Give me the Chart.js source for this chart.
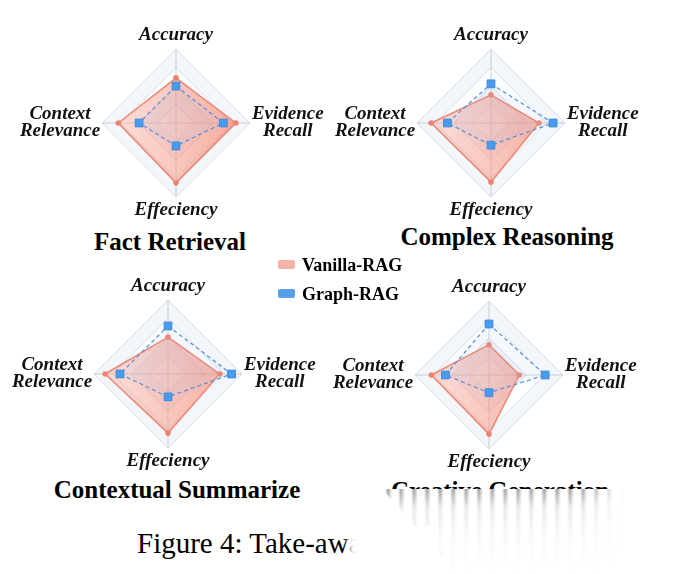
<!DOCTYPE html>
<html>
<head>
<meta charset="utf-8">
<script src="https://cdn.jsdelivr.net/npm/chart.js@4.4.1/dist/chart.umd.min.js"></script>
<style>
  html, body { margin: 0; padding: 0; background: #fff; }
  body { width: 675px; height: 574px; position: relative; overflow: hidden; font-family: "Liberation Serif", "DejaVu Serif", serif; }
  canvas { position: absolute; }
  .title { position: absolute; font-weight: bold; font-size: 25px; line-height: 1; white-space: nowrap; transform: translate(-50%, -50%); color: #000; }
  .leg { position: absolute; left: 278px; font-weight: bold; font-size: 18px; line-height: 1; white-space: nowrap; }
  .leg span { display: inline-block; width: 17px; height: 9px; border-radius: 2px; margin-right: 7px; vertical-align: 2px; }
  #caption { position: absolute; left: 137px; top: 529px; font-size: 29px; line-height: 1; white-space: nowrap; }
  #smear { position: absolute; left: 340px; top: 489px; width: 335px; height: 85px;
    clip-path: polygon(42px 0, 100% 0, 100% 100%, 120px 100%);
    background:
      linear-gradient(to right, rgba(255,255,255,0) 0, rgba(255,255,255,0) 240px, #fff 285px),
      linear-gradient(to bottom, rgba(255,255,255,0) 0, rgba(255,255,255,0.75) 18px, rgba(255,255,255,0.92) 45px, #fff 84px),
      repeating-linear-gradient(90deg, #fff 0, #fff 6px, #9a9a9a 9px, #fff 13px); }
  #smear2 { position: absolute; left: 344px; top: 526px; width: 95px; height: 36px;
    background: linear-gradient(to right, rgba(255,255,255,0) 0, rgba(255,255,255,0.9) 8px, #fff 14px); }
</style>
</head>
<body>
<div id="caption">Figure 4: Take-away</div>
<div id="smear"></div>
<div id="smear2"></div>
<script>
// axes, tasks and series
const axisLabels = [['Accuracy'], ['Evidence', 'Recall'], ['Effeciency'], ['Context', 'Relevance']];
const taskNames = ['Fact Retrieval', 'Complex Reasoning', 'Contextual Summarize', 'Creative Generation'];
const seriesNames = ['Vanilla-RAG', 'Graph-RAG'];

// scores (0..1), order: Accuracy, Evidence Recall, Effeciency, Context Relevance
const vanillaFact = [0.61, 0.81, 0.81, 0.78];
const graphFact = [0.50, 0.64, 0.31, 0.50];
const vanillaComplex = [0.38, 0.65, 0.80, 0.81];
const graphComplex = [0.53, 0.84, 0.30, 0.59];
const vanillaSummary = [0.50, 0.70, 0.80, 0.85];
const graphSummary = [0.65, 0.86, 0.31, 0.65];
const vanillaCreative = [0.41, 0.41, 0.80, 0.78];
const graphCreative = [0.69, 0.76, 0.24, 0.59];

const vanillaAll = [vanillaFact, vanillaComplex, vanillaSummary, vanillaCreative];
const graphAll = [graphFact, graphComplex, graphSummary, graphCreative];

const redLine = 'rgb(238,132,112)';
const blueMark = 'rgb(74,155,235)';
const legendColors = ['rgb(246,178,166)', 'rgb(90,160,232)'];

// page layout
const centers = [[176, 123], [491, 123], [168, 374], [489, 375]];
const titlePos = [[170, 241], [507, 236], [177, 489], [500, 490]];
const CW = 400, CH = 192;
const labelFont = { family: 'Liberation Serif', size: 19, style: 'italic', weight: 'bold', lineHeight: 0.9 };

// faint rings behind the grid and centred axis names
const radarDeco = {
    id: 'radarDeco',
    beforeDraw(chart) {
        const s = chart.scales.r;
        const ctx = chart.ctx;
        const n = chart.data.labels.length;
        [1, 0.75, 0.5, 0.25].forEach((f, k) => {
            ctx.beginPath();
            for (let i = 0; i < n; i++) {
                const p = s.getPointPosition(i, s.drawingArea * f);
                if (i == 0) { ctx.moveTo(p.x, p.y) } else { ctx.lineTo(p.x, p.y) }
            }
            ctx.closePath();
            ctx.fillStyle = k % 2 == 0 ? 'rgba(238,242,249,0.7)' : 'rgba(255,255,255,0.9)';
            ctx.fill();
        });
    },
    afterDraw(chart) {
        const s = chart.scales.r;
        const ctx = chart.ctx;
        const lh = labelFont.size * labelFont.lineHeight;
        ctx.save();
        ctx.font = `italic bold ${labelFont.size}px "Liberation Serif"`;
        ctx.fillStyle = '#111';
        ctx.textAlign = 'center';
        ctx.textBaseline = 'middle';
        chart.data.labels.forEach((lines, i) => {
            const p = s.getPointPosition(i, s.drawingArea + 5);
            const w = Math.max(...lines.map(t => ctx.measureText(t).width));
            const q = s.getPointPosition(i, s.drawingArea + 2);
            lines.forEach((t, k) => {
                let x = p.x, y = p.y;
                if (i == 0) { y = p.y - (lines.length - k - 0.5) * lh }
                if (i == 2) { y = p.y + (k + 0.5) * lh }
                if (i == 1) { x = q.x + w / 2; y = q.y - lines.length * lh / 2 + (k + 0.5) * lh }
                if (i == 3) { x = q.x - w / 2; y = q.y - lines.length * lh / 2 + (k + 0.5) * lh }
                ctx.fillText(t, x, y);
            });
        });
        ctx.restore();
    }
};

function redFill(c) {
    const s = c.chart.scales.r;
    if (!s || !s.drawingArea) { return 'rgba(243,150,130,0.5)' }
    const g = c.chart.ctx.createLinearGradient(s.xCenter - s.drawingArea, 0, s.xCenter + s.drawingArea, 0);
    g.addColorStop(0, 'rgba(250,190,178,0.45)');
    g.addColorStop(1, 'rgba(240,118,96,0.65)');
    return g;
}

for (let t = 0; t < taskNames.length; t++) {
    const cv = document.createElement('canvas');
    cv.width = CW; cv.height = CH;
    cv.style.left = (centers[t][0] - CW / 2) + 'px';
    cv.style.top = (centers[t][1] - CH / 2) + 'px';
    document.body.appendChild(cv);

    new Chart(cv.getContext('2d'), {
        type: 'radar',
        data: {
            labels: axisLabels,
            datasets: [{
                label: seriesNames[0],
                data: vanillaAll[t],
                order: 1,
                fill: true,
                backgroundColor: redFill,
                borderColor: redLine,
                borderWidth: 1.5,
                pointRadius: 2.8,
                pointBackgroundColor: redLine,
                pointBorderWidth: 0
            }, {
                label: seriesNames[1],
                data: graphAll[t],
                order: 0,
                fill: true,
                backgroundColor: 'rgba(170,200,240,0.12)',
                borderColor: 'rgba(88,142,222,0.95)',
                borderWidth: 1.3,
                borderDash: [4, 3],
                pointStyle: 'rect',
                pointRadius: 5.5,
                pointBackgroundColor: blueMark,
                pointBorderColor: 'rgb(60,140,225)',
                pointBorderWidth: 1
            }]
        },
        options: {
            responsive: false,
            animation: false,
            plugins: { legend: { display: false }, tooltip: { enabled: false } },
            scales: {
                r: {
                    min: 0,
                    max: 1,
                    ticks: { display: false, stepSize: 0.25 },
                    grid: { color: 'rgba(210,216,228,0.9)', lineWidth: 1 },
                    angleLines: { color: 'rgba(200,200,206,0.9)' },
                    pointLabels: { display: true, padding: 5, font: labelFont, color: 'rgba(0,0,0,0)' }
                }
            }
        },
        plugins: [radarDeco]
    });

    const tt = document.createElement('div');
    tt.className = 'title';
    tt.textContent = taskNames[t];
    tt.style.left = titlePos[t][0] + 'px';
    tt.style.top = titlePos[t][1] + 'px';
    document.body.insertBefore(tt, document.getElementById('smear'));
}

// legend
seriesNames.forEach((name, i) => {
    const d = document.createElement('div');
    d.className = 'leg';
    d.style.top = (256 + i * 29) + 'px';
    d.innerHTML = `<span style="background:${legendColors[i]}"></span>${name}`;
    document.body.appendChild(d);
});
</script>
</body>
</html>
